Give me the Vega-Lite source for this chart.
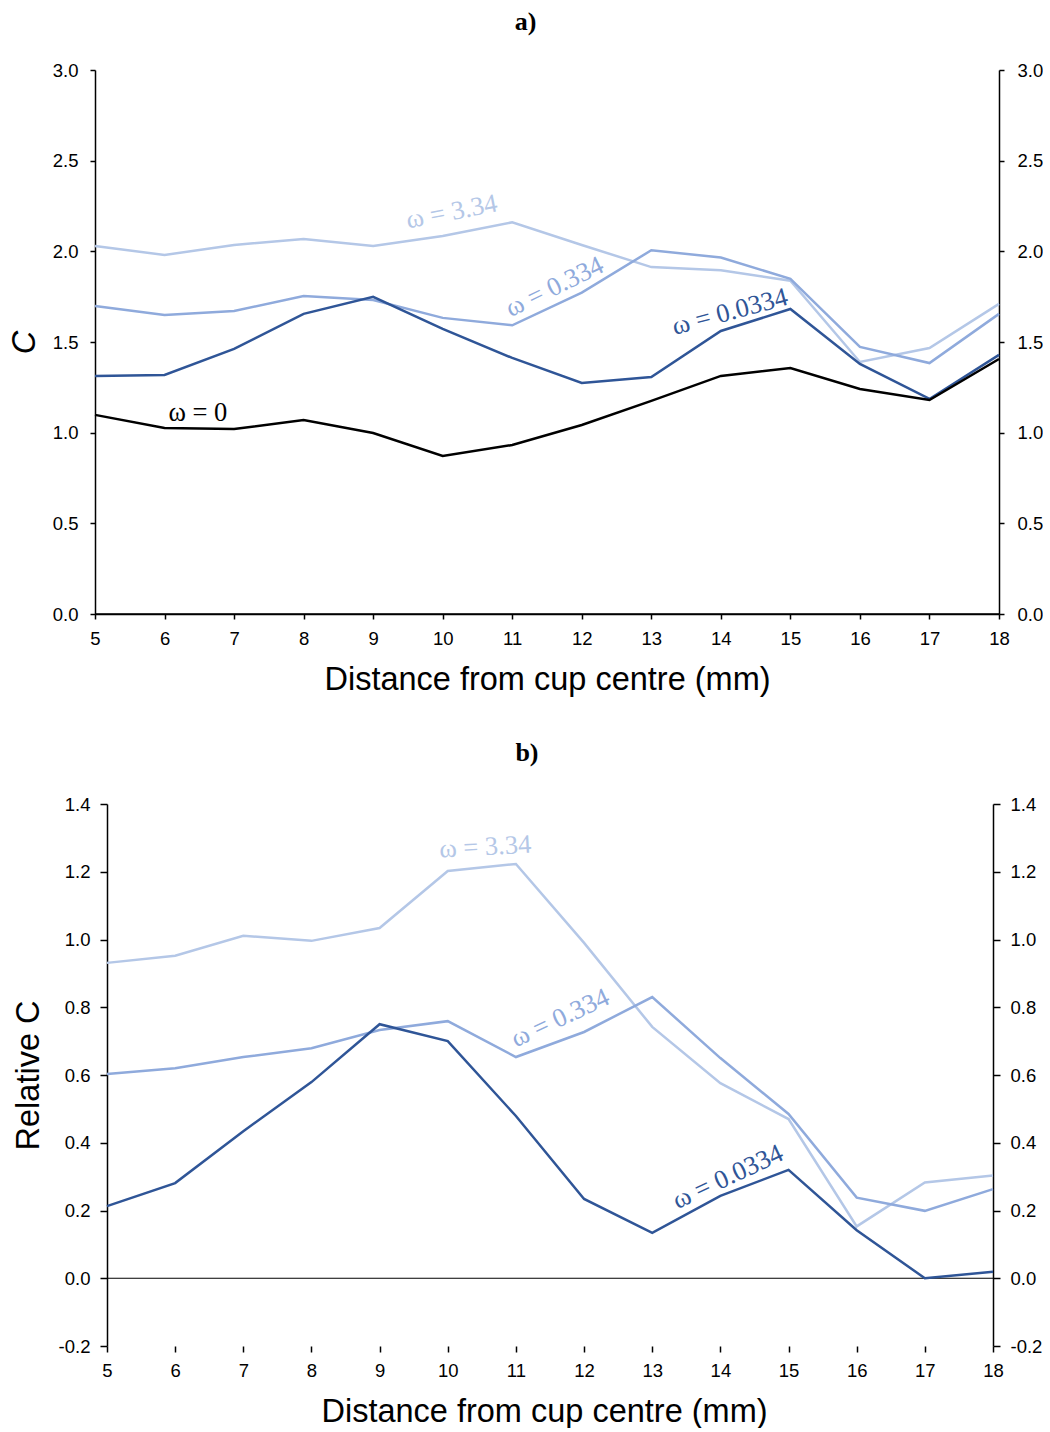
{
  "$schema": "https://vega.github.io/schema/vega-lite/v6.json",
  "padding": {"left": 8, "top": 9, "right": 0, "bottom": 0},
  "spacing": 44,
  "background": "white",
  "config": {
    "view": {"stroke": null},
    "axis": {
      "grid": false, "domainColor": "#000", "tickColor": "#000", "labelColor": "#000", "titleColor": "#000",
      "labelFont": "Liberation Sans", "titleFont": "Liberation Sans", "labelFontSize": 18.5, "titleFontSize": 32.5,
      "titleFontWeight": "normal", "domainWidth": 1.5, "tickWidth": 1.5, "labelFlush": false, "labelOverlap": false
    }
  },
  "datasets": {
    "zero": [{"d": 5, "d2": 18, "v": 0}],
    "a": [
      {"d": 5, "s": "3.34", "v": 2.030}, {"d": 6, "s": "3.34", "v": 1.980}, {"d": 7, "s": "3.34", "v": 2.035}, {"d": 8, "s": "3.34", "v": 2.068}, {"d": 9, "s": "3.34", "v": 2.030}, {"d": 10, "s": "3.34", "v": 2.085}, {"d": 11, "s": "3.34", "v": 2.160}, {"d": 12, "s": "3.34", "v": 2.035}, {"d": 13, "s": "3.34", "v": 1.913}, {"d": 14, "s": "3.34", "v": 1.896}, {"d": 15, "s": "3.34", "v": 1.838}, {"d": 16, "s": "3.34", "v": 1.390}, {"d": 17, "s": "3.34", "v": 1.467}, {"d": 18, "s": "3.34", "v": 1.710},
      {"d": 5, "s": "0.334", "v": 1.699}, {"d": 6, "s": "0.334", "v": 1.649}, {"d": 7, "s": "0.334", "v": 1.671}, {"d": 8, "s": "0.334", "v": 1.754}, {"d": 9, "s": "0.334", "v": 1.732}, {"d": 10, "s": "0.334", "v": 1.633}, {"d": 11, "s": "0.334", "v": 1.592}, {"d": 12, "s": "0.334", "v": 1.772}, {"d": 13, "s": "0.334", "v": 2.006}, {"d": 14, "s": "0.334", "v": 1.966}, {"d": 15, "s": "0.334", "v": 1.848}, {"d": 16, "s": "0.334", "v": 1.473}, {"d": 17, "s": "0.334", "v": 1.384}, {"d": 18, "s": "0.334", "v": 1.655},
      {"d": 5, "s": "0.0334", "v": 1.313}, {"d": 6, "s": "0.0334", "v": 1.318}, {"d": 7, "s": "0.0334", "v": 1.462}, {"d": 8, "s": "0.0334", "v": 1.655}, {"d": 9, "s": "0.0334", "v": 1.749}, {"d": 10, "s": "0.0334", "v": 1.572}, {"d": 11, "s": "0.0334", "v": 1.412}, {"d": 12, "s": "0.0334", "v": 1.274}, {"d": 13, "s": "0.0334", "v": 1.307}, {"d": 14, "s": "0.0334", "v": 1.561}, {"d": 15, "s": "0.0334", "v": 1.682}, {"d": 16, "s": "0.0334", "v": 1.379}, {"d": 17, "s": "0.0334", "v": 1.186}, {"d": 18, "s": "0.0334", "v": 1.429},
      {"d": 5, "s": "0", "v": 1.098}, {"d": 6, "s": "0", "v": 1.026}, {"d": 7, "s": "0", "v": 1.020}, {"d": 8, "s": "0", "v": 1.070}, {"d": 9, "s": "0", "v": 0.998}, {"d": 10, "s": "0", "v": 0.871}, {"d": 11, "s": "0", "v": 0.932}, {"d": 12, "s": "0", "v": 1.042}, {"d": 13, "s": "0", "v": 1.175}, {"d": 14, "s": "0", "v": 1.313}, {"d": 15, "s": "0", "v": 1.357}, {"d": 16, "s": "0", "v": 1.241}, {"d": 17, "s": "0", "v": 1.180}, {"d": 18, "s": "0", "v": 1.406}
    ],
    "b": [
      {"d": 5, "s": "3.34", "v": 0.931}, {"d": 6, "s": "3.34", "v": 0.952}, {"d": 7, "s": "3.34", "v": 1.011}, {"d": 8, "s": "3.34", "v": 0.996}, {"d": 9, "s": "3.34", "v": 1.034}, {"d": 10, "s": "3.34", "v": 1.202}, {"d": 11, "s": "3.34", "v": 1.223}, {"d": 12, "s": "3.34", "v": 0.990}, {"d": 13, "s": "3.34", "v": 0.742}, {"d": 14, "s": "3.34", "v": 0.576}, {"d": 15, "s": "3.34", "v": 0.470}, {"d": 16, "s": "3.34", "v": 0.153}, {"d": 17, "s": "3.34", "v": 0.283}, {"d": 18, "s": "3.34", "v": 0.303},
      {"d": 5, "s": "0.334", "v": 0.603}, {"d": 6, "s": "0.334", "v": 0.620}, {"d": 7, "s": "0.334", "v": 0.653}, {"d": 8, "s": "0.334", "v": 0.679}, {"d": 9, "s": "0.334", "v": 0.733}, {"d": 10, "s": "0.334", "v": 0.759}, {"d": 11, "s": "0.334", "v": 0.653}, {"d": 12, "s": "0.334", "v": 0.727}, {"d": 13, "s": "0.334", "v": 0.830}, {"d": 14, "s": "0.334", "v": 0.650}, {"d": 15, "s": "0.334", "v": 0.485}, {"d": 16, "s": "0.334", "v": 0.238}, {"d": 17, "s": "0.334", "v": 0.199}, {"d": 18, "s": "0.334", "v": 0.263},
      {"d": 5, "s": "0.0334", "v": 0.213}, {"d": 6, "s": "0.0334", "v": 0.281}, {"d": 7, "s": "0.0334", "v": 0.434}, {"d": 8, "s": "0.0334", "v": 0.579}, {"d": 9, "s": "0.0334", "v": 0.750}, {"d": 10, "s": "0.0334", "v": 0.700}, {"d": 11, "s": "0.0334", "v": 0.479}, {"d": 12, "s": "0.0334", "v": 0.234}, {"d": 13, "s": "0.0334", "v": 0.134}, {"d": 14, "s": "0.0334", "v": 0.243}, {"d": 15, "s": "0.0334", "v": 0.320}, {"d": 16, "s": "0.0334", "v": 0.142}, {"d": 17, "s": "0.0334", "v": 0.000}, {"d": 18, "s": "0.0334", "v": 0.019}
    ],
    "la": [
      {"d": 10.13, "v": 2.217, "s": "3.34", "t": "ω = 3.34"},
      {"d": 11.61, "v": 1.804, "s": "0.334", "t": "ω = 0.334"},
      {"d": 14.13, "v": 1.666, "s": "0.0334", "t": "ω = 0.0334"},
      {"d": 6.48, "v": 1.109, "s": "0", "t": "ω = 0"}
    ],
    "lb": [
      {"d": 10.55, "v": 1.273, "s": "3.34", "t": "ω = 3.34"},
      {"d": 11.65, "v": 0.768, "s": "0.334", "t": "ω = 0.334"},
      {"d": 14.11, "v": 0.299, "s": "0.0334", "t": "ω = 0.0334"}
    ]
  },
  "vconcat": [
    {
      "title": {"text": "a)", "font": "Liberation Serif", "fontSize": 26, "fontWeight": "bold", "color": "#000", "baseline": "alphabetic", "offset": 5, "anchor": "middle", "frame": "bounds"},
      "width": 904,
      "height": 544,
      "layer": [
        {
          "data": {"name": "zero"},
          "mark": {"type": "rule", "color": "#000", "strokeWidth": 1.5},
          "encoding": {
            "y": {"field": "v", "type": "quantitative", "scale": {"domain": [0, 3], "nice": false, "zero": false},
              "axis": {"orient": "right", "title": null, "values": [0, 0.5, 1, 1.5, 2, 2.5, 3], "format": ".1f", "tickSize": 5, "labelPadding": 13}}
          }
        },
        {
          "encoding": {
            "x": {"field": "d", "type": "quantitative", "scale": {"domain": [5, 18], "nice": false, "zero": false},
              "axis": {"title": "Distance from cup centre (mm)", "values": [5, 6, 7, 8, 9, 10, 11, 12, 13, 14, 15, 16, 17, 18], "format": "d", "tickSize": 5, "labelPadding": 10, "titlePadding": 16}},
            "y": {"field": "v", "type": "quantitative", "scale": {"domain": [0, 3], "nice": false, "zero": false},
              "axis": {"orient": "left", "title": "C", "titleFontStyle": "italic", "values": [0, 0.5, 1, 1.5, 2, 2.5, 3], "format": ".1f", "tickSize": 5, "labelPadding": 12, "minExtent": 43, "maxExtent": 43, "titlePadding": 10.5}},
            "color": {"field": "s", "type": "nominal", "legend": null,
              "scale": {"domain": ["0", "0.0334", "0.334", "3.34"], "range": ["#000000", "#2F5597", "#8FAADC", "#B4C7E7"]}}
          },
          "layer": [
            {"data": {"name": "a"}, "mark": {"type": "line", "strokeWidth": 2.5}},
            {"data": {"name": "la"}, "transform": [{"filter": "datum.s == '3.34'"}], "mark": {"type": "text", "font": "Liberation Serif", "fontSize": 26.5, "angle": 349}, "encoding": {"text": {"field": "t"}}},
            {"data": {"name": "la"}, "transform": [{"filter": "datum.s == '0.334'"}], "mark": {"type": "text", "font": "Liberation Serif", "fontSize": 26.5, "angle": 334}, "encoding": {"text": {"field": "t"}}},
            {"data": {"name": "la"}, "transform": [{"filter": "datum.s == '0.0334'"}], "mark": {"type": "text", "font": "Liberation Serif", "fontSize": 26.5, "angle": 345}, "encoding": {"text": {"field": "t"}}},
            {"data": {"name": "la"}, "transform": [{"filter": "datum.s == '0'"}], "mark": {"type": "text", "font": "Liberation Serif", "fontSize": 26.5, "angle": 0}, "encoding": {"text": {"field": "t"}}}
          ]
        }
      ],
      "resolve": {"scale": {"y": "independent"}}
    },
    {
      "title": {"text": "b)", "font": "Liberation Serif", "fontSize": 26, "fontWeight": "bold", "color": "#000", "baseline": "alphabetic", "offset": 8, "anchor": "middle", "frame": "bounds"},
      "width": 898,
      "height": 542,
      "layer": [
        {
          "data": {"name": "zero"},
          "mark": {"type": "rule", "color": "#000", "strokeWidth": 1},
          "encoding": {
            "x": {"field": "d", "type": "quantitative", "scale": {"domain": [4.824, 18], "nice": false, "zero": false},
              "axis": {"title": "Distance from cup centre (mm)", "domain": false, "values": [5, 6, 7, 8, 9, 10, 11, 12, 13, 14, 15, 16, 17, 18], "format": "d", "tickSize": 6, "labelPadding": 9, "titlePadding": 16}},
            "x2": {"field": "d2"},
            "y": {"field": "v", "type": "quantitative", "scale": {"domain": [-0.2, 1.4], "nice": false, "zero": false},
              "axis": {"orient": "right", "title": null, "values": [-0.2, 0, 0.2, 0.4, 0.6, 0.8, 1, 1.2, 1.4], "labelExpr": "replace(format(datum.value, '.1f'), '\u2212', '-')", "tickSize": 7, "labelPadding": 10}}
          }
        },
        {
          "encoding": {
            "x": {"field": "d", "type": "quantitative", "scale": {"domain": [4.824, 18], "nice": false, "zero": false},
              "axis": {"title": "Distance from cup centre (mm)", "domain": false, "values": [5, 6, 7, 8, 9, 10, 11, 12, 13, 14, 15, 16, 17, 18], "format": "d", "tickSize": 6, "labelPadding": 9, "titlePadding": 16}},
            "y": {"field": "v", "type": "quantitative", "scale": {"domain": [-0.2, 1.4], "nice": false, "zero": false},
              "axis": {"orient": "left", "offset": -12, "title": "Relative C", "values": [-0.2, 0, 0.2, 0.4, 0.6, 0.8, 1, 1.2, 1.4], "labelExpr": "replace(format(datum.value, '.1f'), '\u2212', '-')", "tickSize": 7, "labelPadding": 10, "minExtent": 49, "maxExtent": 49, "titlePadding": 13}},
            "color": {"field": "s", "type": "nominal", "legend": null,
              "scale": {"domain": ["0", "0.0334", "0.334", "3.34"], "range": ["#000000", "#2F5597", "#8FAADC", "#B4C7E7"]}}
          },
          "layer": [
            {"data": {"name": "b"}, "mark": {"type": "line", "strokeWidth": 2.5}},
            {"data": {"name": "lb"}, "transform": [{"filter": "datum.s == '3.34'"}], "mark": {"type": "text", "font": "Liberation Serif", "fontSize": 26.5, "angle": 357}, "encoding": {"text": {"field": "t"}}},
            {"data": {"name": "lb"}, "transform": [{"filter": "datum.s == '0.334'"}], "mark": {"type": "text", "font": "Liberation Serif", "fontSize": 26.5, "angle": 335}, "encoding": {"text": {"field": "t"}}},
            {"data": {"name": "lb"}, "transform": [{"filter": "datum.s == '0.0334'"}], "mark": {"type": "text", "font": "Liberation Serif", "fontSize": 26.5, "angle": 335}, "encoding": {"text": {"field": "t"}}}
          ]
        }
      ],
      "resolve": {"scale": {"y": "independent"}}
    }
  ]
}
